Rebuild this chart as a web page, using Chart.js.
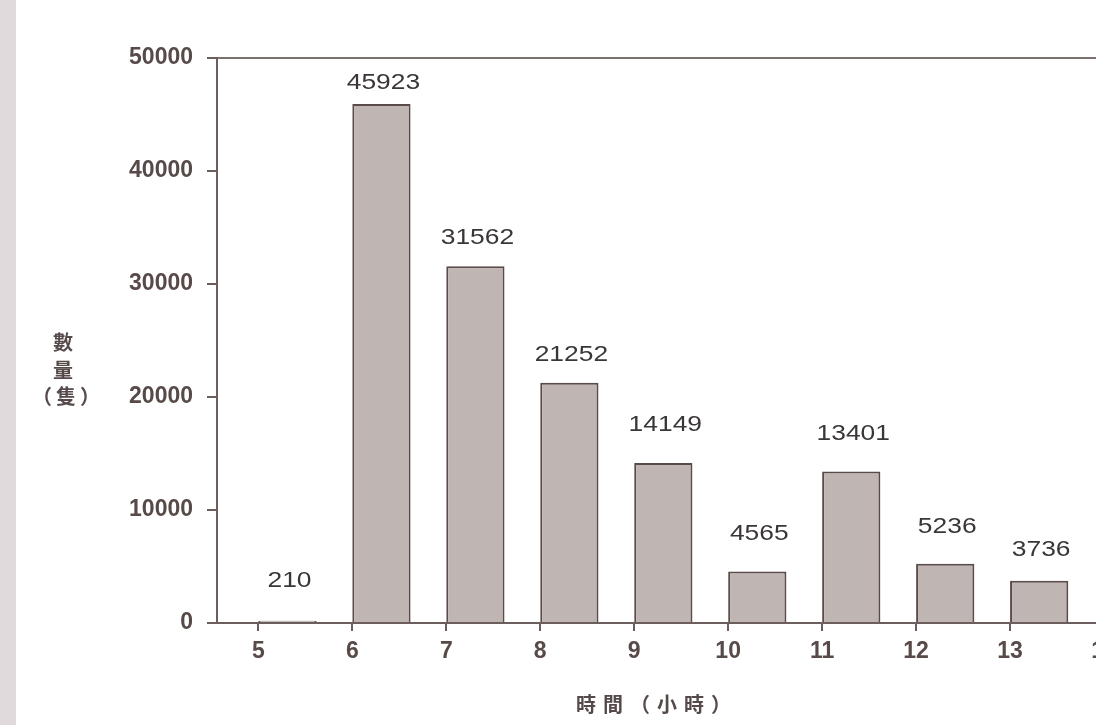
<!DOCTYPE html>
<html>
<head>
<meta charset="utf-8">
<script src="https://cdn.jsdelivr.net/npm/chart.js@4/dist/chart.umd.min.js"></script>
<style>
  html, body { margin: 0; padding: 0; background: #ffffff; width: 1096px; height: 725px; overflow: hidden; }
  #wrap { position: absolute; left: 0; top: 0; width: 1200px; height: 725px; }
  #strip { position: absolute; left: 0; top: 0; width: 16px; height: 725px; background: #e1dadc; }
</style>
</head>
<body>
<div id="wrap"><canvas id="c" width="1200" height="725"></canvas></div>
<div id="strip"></div>
<script>
// Hourly counts (數量, 隻) by hour of day
const hours = [5, 6, 7, 8, 9, 10, 11, 12, 13];
const counts = [210, 45923, 31562, 21252, 14149, 4565, 13401, 5236, 3736];
const hourTicks = [5, 6, 7, 8, 9, 10, 11, 12, 13, 14];
const countTicks = [0, 10000, 20000, 30000, 40000, 50000];
const yTitleLines = ['數', '量', '（隻）'];
const xTitle = '時間（小時）';

// presentation settings
const BAR_SPAN = 0.62;                       // each bar covers [hour, hour + BAR_SPAN]
const labelLift = [40, 21, 28, 28, 38, 37, 38, 37, 31]; // px from bar top to value label
const X_MIN = 4.56, X_MAX = 14.5;
const AXIS = '#6b5e5c';
const TICK_TEXT = '#574a48';
const TICK_FONT = { family: '"Liberation Sans", Arial, sans-serif', size: 23, weight: 'bold' };

const valueLabels = {
  id: 'valueLabels',
  afterDatasetsDraw(chart) {
    const ctx = chart.ctx;
    const meta = chart.getDatasetMeta(0);
    ctx.save();
    ctx.font = '22px "Liberation Sans", Arial, sans-serif';
    ctx.fillStyle = '#3a3636';
    ctx.textAlign = 'center';
    ctx.textBaseline = 'middle';
    meta.data.forEach((bar, i) => {
      ctx.save();
      ctx.translate(bar.x + 2, bar.y - labelLift[i]);
      ctx.scale(1.2, 1);
      ctx.fillText(String(counts[i]), 0, 0);
      ctx.restore();
    });
    ctx.restore();
  }
};

const axisTitles = {
  id: 'axisTitles',
  afterDraw(chart) {
    const ctx = chart.ctx;
    ctx.save();
    ctx.fillStyle = '#55494a';
    ctx.font = 'bold 20px "Noto Sans CJK TC", sans-serif';
    ctx.textAlign = 'center';
    ctx.textBaseline = 'middle';
    const ys = [342, 370, 396];
    ctx.fillText(yTitleLines[0], 63, ys[0]);
    ctx.fillText(yTitleLines[1], 63, ys[1]);
    ctx.letterSpacing = '4px';
    ctx.fillText(yTitleLines[2], 68, ys[2]);
    ctx.letterSpacing = '7px';
    ctx.fillText(xTitle, 657, 704);
    ctx.restore();
  }
};

new Chart(document.getElementById('c'), {
  type: 'bar',
  data: {
    datasets: [{
      data: hours.map((h, i) => ({ x: h + BAR_SPAN / 2, y: counts[i] })),
      backgroundColor: '#bfb5b3',
      borderColor: '#5a4b49',
      borderWidth: 2,
      categoryPercentage: 1,
      barPercentage: BAR_SPAN
    }]
  },
  options: {
    responsive: false,
    animation: false,
    devicePixelRatio: 1,
    layout: { padding: { top: 58, right: 49, left: 0, bottom: 0 } },
    plugins: { legend: { display: false }, tooltip: { enabled: false } },
    scales: {
      x: {
        type: 'linear',
        position: 'bottom',
        min: X_MIN, max: X_MAX,
        offset: false,
        afterBuildTicks: s => { s.ticks = hourTicks.map(v => ({ value: v })); },
        afterFit: s => { s.height = 102; },
        ticks: {
          color: TICK_TEXT,
          padding: 7,
          maxRotation: 0,
          autoSkip: false,
          font: TICK_FONT,
          callback: v => String(v)
        },
        grid: { offset: false, drawOnChartArea: false, drawTicks: true, tickLength: 8, color: AXIS, lineWidth: 2 },
        border: { display: true, color: AXIS, width: 2 }
      },
      xTop: {
        type: 'linear',
        position: 'top',
        min: X_MIN, max: X_MAX,
        afterFit: s => { s.height = 0; },
        ticks: { display: false },
        grid: { drawOnChartArea: false, drawTicks: false },
        border: { display: true, color: '#7d7170', width: 2 }
      },
      y: {
        min: 0, max: 50000,
        afterBuildTicks: s => { s.ticks = countTicks.map(v => ({ value: v })); },
        afterFit: s => { s.width = 217; },
        ticks: {
          color: TICK_TEXT,
          padding: 14,
          font: TICK_FONT,
          callback: v => String(v)
        },
        grid: { drawOnChartArea: false, drawTicks: true, tickLength: 10, color: AXIS, lineWidth: 2 },
        border: { display: true, color: AXIS, width: 2 }
      }
    }
  },
  plugins: [valueLabels, axisTitles]
});
</script>
</body>
</html>
